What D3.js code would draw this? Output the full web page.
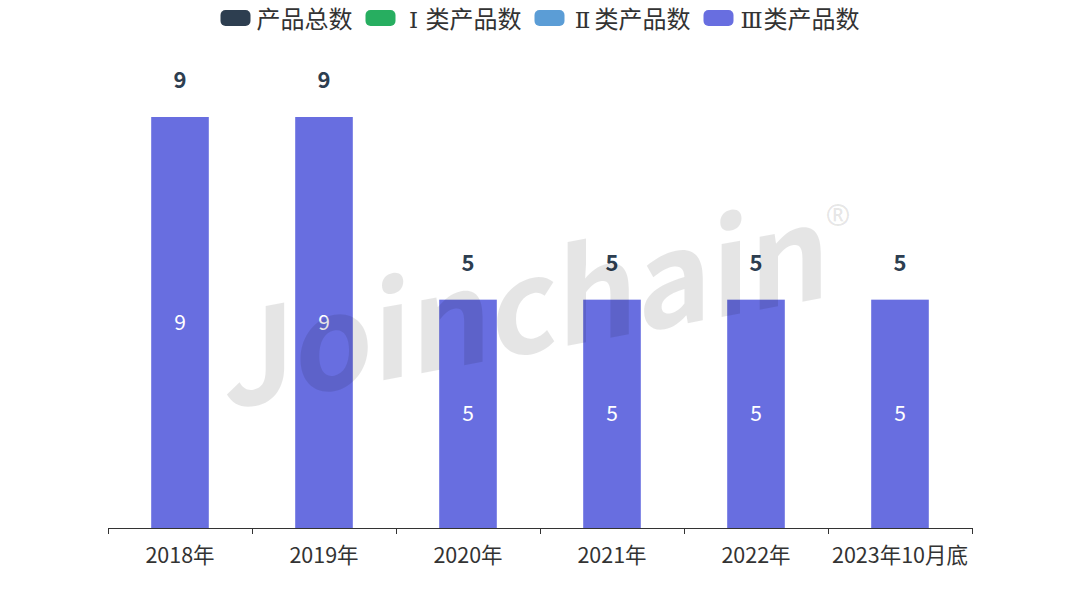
<!DOCTYPE html>
<html><head><meta charset="utf-8">
<script src="https://cdn.jsdelivr.net/npm/d3@7/dist/d3.min.js"></script>
<style>html,body{margin:0;padding:0;background:#fff;}svg{display:block;}</style>
</head><body>
<svg id="chart" width="1080" height="600"></svg>
<script>
const categories = ['2018年','2019年','2020年','2021年','2022年','2023年10月底'];
const seriesNames = ['产品总数','Ⅰ类产品数','Ⅱ类产品数','Ⅲ类产品数'];
const totalValues = [9,9,5,5,5,5];
const class1Values = [0,0,0,0,0,0];
const class2Values = [0,0,0,0,0,0];
const class3Values = [9,9,5,5,5,5];
const colors = ['#2d3e50','#27ae60','#5b9dd6','#686ee0'];

const svg = d3.select('#chart');
const font = '"Noto Sans CJK SC","Noto Sans",sans-serif';
const plotLeft = 108, plotRight = 972, plotTop = 117, plotBottom = 528;

const x = d3.scaleBand().domain(categories).range([plotLeft, plotRight]).paddingInner(0).paddingOuter(0);
const y = d3.scaleLinear().domain([0, d3.max(totalValues)]).range([plotBottom, plotTop]);

const rows = categories.map((c,i)=>({cat:c, s1:class1Values[i], s2:class2Values[i], s3:class3Values[i], total: totalValues[i]}));
const stacked = d3.stack().keys(['s1','s2','s3'])(rows);
const barW = x.bandwidth()*0.4;

const g = svg.append('g');
stacked.forEach((layer, li) => {
  g.selectAll(null).data(layer).enter().append('rect')
    .attr('x', d => x(d.data.cat) + (x.bandwidth()-barW)/2)
    .attr('y', d => y(d[1]))
    .attr('width', barW)
    .attr('height', d => Math.max(0, y(d[0]) - y(d[1])))
    .attr('fill', colors[li+1]);
  g.selectAll(null).data(layer.filter(d => d[1]-d[0] > 0)).enter().append('text')
    .attr('x', d => x(d.data.cat) + x.bandwidth()/2)
    .attr('y', d => (y(d[0]) + y(d[1]))/2)
    .attr('dy', '0.36em')
    .attr('text-anchor','middle')
    .attr('font-family', font).attr('font-size', 21)
    .attr('fill', '#fff')
    .text(d => d[1]-d[0]);
});

g.selectAll(null).data(rows).enter().append('text')
  .attr('x', d => x(d.cat) + x.bandwidth()/2)
  .attr('y', d => y(d.total) - 29)
  .attr('text-anchor','middle')
  .attr('font-family', font).attr('font-size', 22).attr('font-weight','bold')
  .attr('fill', colors[0])
  .text(d => d.total);

const axis = svg.append('g').attr('transform', `translate(0,${plotBottom})`)
  .call(d3.axisBottom(x).tickSize(0).tickPadding(20));
axis.select('.domain').attr('stroke','#333').attr('stroke-width',1).attr('d', `M${plotLeft},0.5H${plotRight}`);
axis.selectAll('.tick text').attr('font-family', font).attr('font-size', 21.5).attr('fill','#333');
const bounds = categories.map(c => x(c)).concat([plotRight]);
axis.selectAll('.bt').data(bounds).enter().append('line')
  .attr('x1', d => Math.round(d)+0.5).attr('x2', d => Math.round(d)+0.5)
  .attr('y1', 0).attr('y2', 6).attr('stroke','#333');

const leg = svg.append('g');
const items = [];
seriesNames.forEach((n,i)=>{
  const it = leg.append('g');
  it.append('rect').attr('x',0).attr('y',-8).attr('width',30).attr('height',16).attr('rx',5).attr('fill',colors[i]);
  const t = it.append('text').attr('x',36).attr('y',10)
    .attr('font-family',font).attr('font-size',24).attr('fill','#333');
  const m = n.match(/^([ⅠⅡⅢ]?)(.*)$/);
  let extra = 0;
  if (m[1]) {
    const ts = t.append('tspan').attr('font-family','"DejaVu Serif","DejaVu Sans",serif').attr('font-size',23).text(m[1]);
    const rest = t.append('tspan').text(m[2]);
    const nw = ts.node().getComputedTextLength();
    const pad = Math.max(0, (24 - nw)/2);
    ts.attr('dx', pad);
    rest.attr('dx', pad);
    extra = 2*pad;
  } else {
    t.append('tspan').text(m[2]);
  }
  let tw = 0;
  t.selectAll('tspan').each(function(){ tw += this.getComputedTextLength(); });
  const w = 36 + tw + extra;
  items.push({it, w});
});
const gap = 13;
const totalW = d3.sum(items, d=>d.w) + gap*(items.length-1);
let lx = 540 - totalW/2;
items.forEach(d=>{ d.it.attr('transform',`translate(${lx},18)`); lx += d.w + gap; });

const wm = svg.append('g').attr('transform','translate(224,410) skewY(-10.6)').attr('pointer-events','none');
wm.append('text').attr('x',0).attr('y',0)
  .attr('font-family','"Noto Sans CJK SC","Open Sans",sans-serif').attr('font-weight','bold').attr('font-size',130)
  .attr('textLength',606).attr('lengthAdjust','spacingAndGlyphs')
  .attr('fill','#000').attr('fill-opacity',0.1).text('Joinchain');
svg.append('text').attr('x',838).attr('y',226).attr('text-anchor','middle')
  .attr('font-family','"Open Sans",sans-serif').attr('font-weight','bold').attr('font-size',30)
  .attr('fill','#000').attr('fill-opacity',0.1).text('®');
</script>
</body></html>
